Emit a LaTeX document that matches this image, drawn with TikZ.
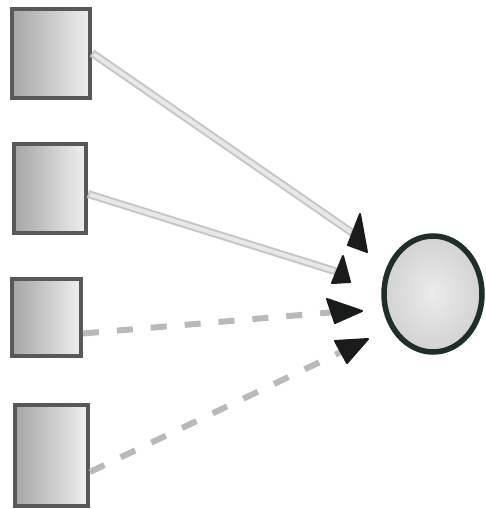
\documentclass[tikz,border=0pt]{standalone}
\usetikzlibrary{shapes.geometric}
\definecolor{boxedge}{RGB}{85,90,85}
\definecolor{ringcol}{RGB}{28,48,38}
\definecolor{tipcol}{RGB}{25,28,26}
\tikzset{
  sketchbox/.style={draw=boxedge, line width=4pt, left color=gray!70, right color=gray!12, inner sep=0pt},
  target/.style={ellipse, draw=ringcol, line width=5.5pt, inner color=gray!15, outer color=gray!35, inner sep=0pt, minimum width=98pt, minimum height=116pt},
  solidlink/.style={draw=gray!45, line width=8pt},
  solidcore/.style={draw=gray!18, line width=4pt},
  dashlink/.style={draw=gray!55, line width=6pt, dash pattern=on 16pt off 18pt},
  tiphead/.style={fill=tipcol, draw=tipcol, line width=2pt, line join=round}
}
\begin{document}
\begin{tikzpicture}[x=1pt,y=-1pt]
\useasboundingbox (0,0) rectangle (485,509);
\node[sketchbox, minimum width=78pt, minimum height=89pt] (b1) at (51,53) {};
\node[sketchbox, minimum width=72pt, minimum height=89pt] (b2) at (50,188) {};
\node[sketchbox, minimum width=69pt, minimum height=77pt] (b3) at (46.5,317.5) {};
\node[sketchbox, minimum width=73pt, minimum height=101pt] (b4) at (51.5,455) {};
\node[target] (c) at (433,294) {};
% ends of the connectors (inside the heads)
\coordinate (t1) at (354,234);
\coordinate (t2) at (338,272);
\coordinate (t3) at (336,312);
\coordinate (t4) at (345,350);
% solid connectors
\draw[solidlink] (b1.east) -- (t1);
\draw[solidcore, shorten <=2pt, shorten >=4pt] (b1.east) -- (t1);
\draw[solidlink] ([yshift=-6pt]b2.east) -- (t2);
\draw[solidcore, shorten <=2pt, shorten >=4pt] ([yshift=-6pt]b2.east) -- (t2);
% dashed connectors
\draw[dashlink] ([yshift=-16pt]b3.east) -- (t3);
\draw[dashlink] ([yshift=-17pt]b4.east) -- (t4);
% hand-drawn heads
\filldraw[tiphead] (360,214) -- (348,245) -- (367,252) -- cycle;
\filldraw[tiphead] (343,256) -- (332,283) -- (350,282) -- cycle;
\filldraw[tiphead] (327,299) -- (362,311) -- (335,323) -- cycle;
\filldraw[tiphead] (335,341) -- (368,339) -- (347,363) -- cycle;
\end{tikzpicture}
\end{document}
